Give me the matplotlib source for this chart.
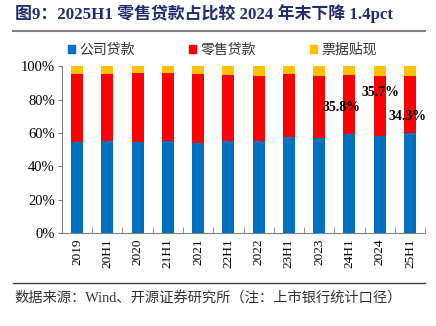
import matplotlib.pyplot as plt
import numpy as np
from matplotlib.lines import Line2D
from matplotlib.patches import Patch

plt.rcParams['font.family'] = ['Liberation Serif', 'Noto Sans CJK SC']
plt.rcParams['axes.unicode_minus'] = False

periods = ['2019', '20H1', '2020', '21H1', '2021', '22H1',
           '2022', '23H1', '2023', '24H1', '2024', '25H1']
corporate = [54.6, 55.4, 54.6, 55.4, 54.2, 55.0, 55.0, 57.8, 57.2, 59.2, 58.4, 60.1]
retail = [40.8, 40.0, 41.2, 40.8, 41.2, 39.8, 39.2, 37.4, 37.0, 35.8, 35.7, 34.3]
discount = [4.6, 4.6, 4.2, 3.8, 4.6, 5.2, 5.8, 4.8, 5.8, 5.0, 5.9, 5.6]

# retail share labels: (bar index, x shift, label height in %)
labelled = [(9, -0.25, 75), (10, 0.03, 84), (11, -0.07, 70)]

blue = '#0070C0'
red = '#FF0000'
gold = '#FFC000'

fig = plt.figure(figsize=(4.36, 3.26), dpi=100)
ax = fig.add_axes([0.142, 0.285, 0.833, 0.512])

x = np.arange(len(periods))
w = 0.4
b1 = np.array(corporate)
b2 = b1 + np.array(retail)
ax.bar(x, corporate, w, color=blue)
ax.bar(x, retail, w, bottom=b1, color=red)
ax.bar(x, discount, w, bottom=b2, color=gold)

for i, dx, yy in labelled:
    ax.text(i + dx, yy, '%.1f%%' % retail[i], ha='center', va='center',
            fontsize=10, fontweight='bold', color='black')

ax.set_xlim(-0.5, 11.5)
ax.set_ylim(0, 100)
ax.set_yticks(range(0, 101, 20))
ax.set_yticklabels(['%d%%' % v for v in range(0, 101, 20)], fontsize=10.5)
ax.set_xticks(x)
ax.set_xticklabels(periods, rotation=90, fontsize=9.5)
ax.tick_params(axis='x', length=0, pad=4)
ax.tick_params(axis='y', length=3, direction='out', color='#808080', pad=2)
ax.set_xticks(np.arange(-0.5, 12, 1), minor=True)
ax.tick_params(axis='x', which='minor', length=4, direction='in', color='#808080')
for s in ['top', 'right']:
    ax.spines[s].set_visible(False)
ax.spines['left'].set_color('#808080')
ax.spines['bottom'].set_color('#808080')

# legend row above the plot
handles = [Patch(color=blue), Patch(color=red), Patch(color=gold)]
names = ['公司贷款', '零售贷款', '票据贴现']
fig.legend(handles, names, loc='center', bbox_to_anchor=(0.51, 0.847), ncol=3,
           frameon=False, fontsize=10, handlelength=0.5, handleheight=0.5,
           handletextpad=0.3, columnspacing=3.9, labelcolor='#333333')

fig.text(0.034, 0.957, '图9：2025H1 零售贷款占比较 2024 年末下降 1.4pct',
         fontsize=12.2, fontweight='bold', color='#1F2D6E', va='center')
fig.add_artist(Line2D([0.03, 0.975], [0.905, 0.905], color='#808080', lw=1.5))
fig.add_artist(Line2D([0.03, 0.975], [0.132, 0.132], color='#404040', lw=1))
fig.text(0.034, 0.086, '数据来源：Wind、开源证券研究所（注：上市银行统计口径）',
         fontsize=10.3, color='#333333', va='center')

fig.savefig('out.png', dpi=100)
